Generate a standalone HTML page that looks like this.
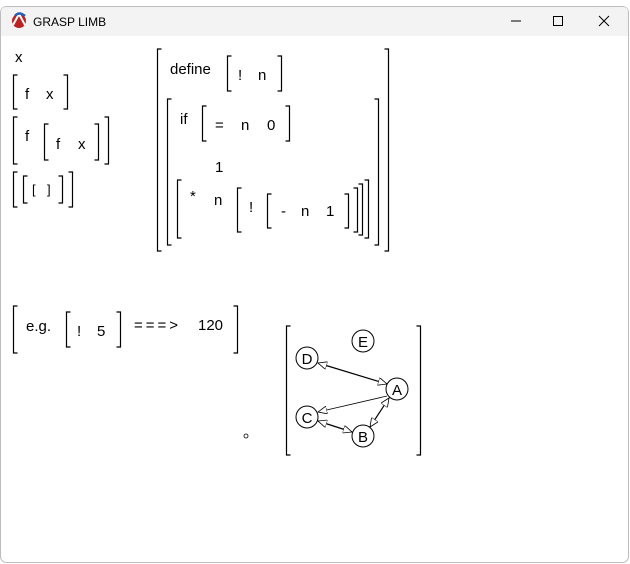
<!DOCTYPE html>
<html><head><meta charset="utf-8"><style>
body{margin:0;width:630px;height:564px;overflow:hidden;background:#fff;font-family:"Liberation Sans",sans-serif}
</style></head><body>
<svg width="630" height="564" viewBox="0 0 630 564" xmlns="http://www.w3.org/2000/svg" style="position:absolute;left:0;top:0">
<rect x="0.5" y="6.5" width="628" height="556" fill="#fff" stroke="#bdbdbd" rx="6"/>
<path d="M1 36 V12 Q1 7 6 7 H623 Q628 7 628 12 V36 Z" fill="#f3f3f3"/>
<g><circle cx="19" cy="21" r="7" fill="#b22"/><path d="M13 25 L19 14 L25 25" fill="none" stroke="#fff" stroke-width="2"/><path d="M15 16 Q19 11 25 16" fill="none" stroke="#2a5db0" stroke-width="2.5"/></g>
<text x="33" y="26" font-size="12" fill="#000">GRASP LIMB</text>
<line x1="511" y1="21" x2="521" y2="21" stroke="#000"/>
<rect x="553.5" y="16.5" width="9" height="9" fill="none" stroke="#000"/>
<path d="M599 16 L609 26 M609 16 L599 26" stroke="#000"/>
<g fill="none" stroke="#000" stroke-width="1.2">
<path d="M17.5 75 H13.5 V109 H17.5 M63.5 75 H67.5 V109 H63.5"/>
<path d="M17.5 117 H13.5 V164 H17.5 M104.5 117 H108.5 V164 H104.5"/>
<path d="M48.5 124 H44.5 V160 H48.5 M94.5 124 H98.5 V160 H94.5"/>
<path d="M17.5 172 H13.5 V207 H17.5 M68.5 172 H72.5 V207 H68.5"/>
<path d="M27.5 176 H23.5 V203 H27.5 M58.5 176 H62.5 V203 H58.5"/>
<path d="M161.5 49 H157.5 V251 H161.5 M384.5 49 H388.5 V251 H384.5"/>
<path d="M231.5 56 H227.5 V91 H231.5 M277.5 56 H281.5 V91 H277.5"/>
<path d="M171.5 99 H167.5 V245 H171.5 M374.5 99 H378.5 V245 H374.5"/>
<path d="M206.5 106 H202.5 V141 H206.5 M285.5 106 H289.5 V141 H285.5"/>
<path d="M181.5 180 H177.5 V238 H181.5 M364.5 180 H368.5 V238 H364.5"/>
<path d="M358.5 184 H362.5 V235 H358.5"/>
<path d="M241.5 188 H237.5 V232 H241.5 M353.5 188 H357.5 V232 H353.5"/>
<path d="M271.5 194 H267.5 V228 H271.5 M344.5 194 H348.5 V228 H344.5"/>
<path d="M17.5 306 H13.5 V353 H17.5 M233.5 306 H237.5 V353 H233.5"/>
<path d="M70.5 312 H66.5 V347 H70.5 M116.5 312 H120.5 V347 H116.5"/>
<path d="M290.5 326 H286.5 V455 H290.5 M416.5 326 H420.5 V455 H416.5"/>
</g>
<g font-size="15" fill="#000">
<text x="15" y="62">x</text>
<text x="25" y="99">f</text><text x="46" y="99">x</text>
<text x="25" y="141">f</text>
<text x="56" y="149">f</text><text x="78" y="149">x</text>
<text x="32" y="194" font-size="13">[</text><text x="47" y="194" font-size="13">]</text>
<text x="170" y="74">define</text>
<text x="238" y="80">!</text><text x="258" y="80">n</text>
<text x="180" y="124">if</text>
<text x="215" y="130">=</text><text x="241" y="130">n</text><text x="267" y="130">0</text>
<text x="215" y="172">1</text>
<text x="190" y="201">*</text><text x="214" y="205">n</text>
<text x="249" y="212">!</text>
<text x="281" y="216">-</text><text x="301" y="216">n</text><text x="326" y="216">1</text>
<text x="26" y="331">e.g.</text>
<text x="77" y="336">!</text><text x="97" y="336">5</text>
<text x="134" y="330" letter-spacing="3">===&gt;</text><text x="198" y="330">120</text>
</g>
<circle cx="246" cy="436" r="2" fill="none" stroke="#000" stroke-width="0.8"/>
<g stroke="#000" fill="none">
<defs><marker id="ah" markerWidth="10" markerHeight="8" refX="9" refY="4" orient="auto-start-reverse" markerUnits="userSpaceOnUse"><path d="M0 0 L9 4 L0 8 Z" fill="#fff" stroke="#000" stroke-width="0.8"/></marker></defs>
<line x1="318" y1="363" x2="387" y2="384" marker-start="url(#ah)" marker-end="url(#ah)" stroke-width="1.2"/>
<line x1="387" y1="396" x2="318" y2="412" marker-end="url(#ah)" stroke-width="0.8"/>
<line x1="389" y1="398" x2="370" y2="427" marker-start="url(#ah)" marker-end="url(#ah)" stroke-width="1.2"/>
<line x1="318" y1="421" x2="352" y2="432" marker-start="url(#ah)" marker-end="url(#ah)" stroke-width="1.2"/>
<g fill="#fff" stroke-width="1">
<circle cx="363" cy="341" r="11"/><circle cx="307" cy="358" r="11"/>
<circle cx="397" cy="389" r="11"/><circle cx="307" cy="417" r="11"/>
<circle cx="363" cy="436" r="11"/>
</g>
<g font-size="15" fill="#000" stroke="none" text-anchor="middle">
<text x="363" y="347">E</text><text x="307" y="364">D</text><text x="397" y="395">A</text><text x="307" y="423">C</text><text x="363" y="442">B</text>
</g>
</g>
</svg>
</body></html>
